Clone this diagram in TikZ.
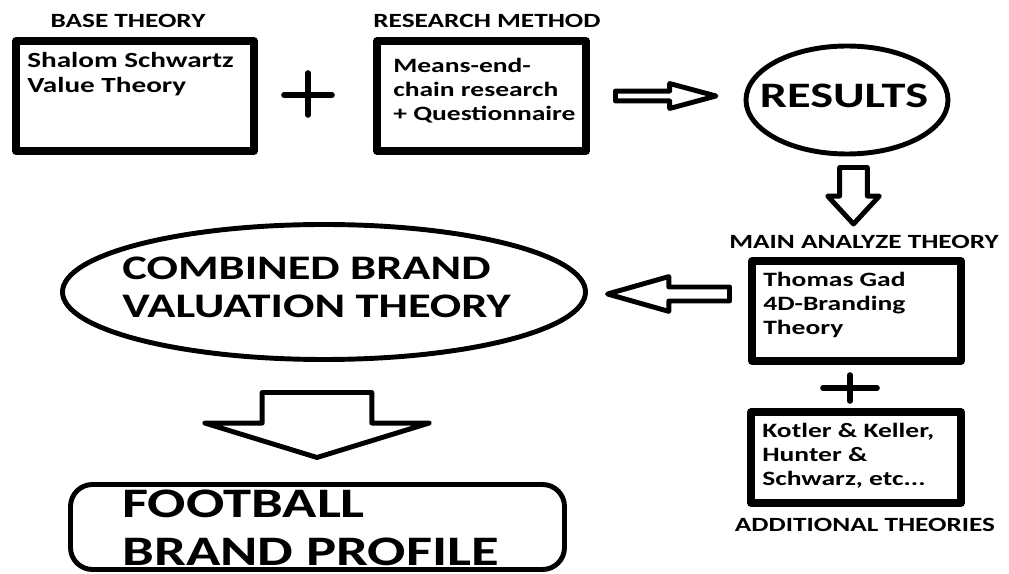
\documentclass[tikz,border=0pt]{standalone}
\usepackage{fontspec}
\setmainfont{Carlito}[FakeStretch=1.35]
\usetikzlibrary{calc,shapes.geometric}

\def\pxu{0.02cm}

% hollow block arrow: name, tail, tip, shaft half-width, head half-width, head length
\newcommand\blockarrow[6]{%
  \coordinate (#1-h) at ($(#3)!#6!(#2)$);
  \draw[arrowline]
    ($(#2)!#4!90:(#3)$) -- ($(#1-h)!#4!90:(#3)$) -- ($(#1-h)!#5!90:(#3)$) -- (#3)
    -- ($(#1-h)!#5!-90:(#3)$) -- ($(#1-h)!#4!-90:(#3)$) -- ($(#2)!#4!-90:(#3)$) -- cycle;
}

\tikzset{
  heavybox/.style={draw, line width=4.3pt, inner sep=0pt, outer sep=0pt},
  ring/.style={draw, ellipse, line width=2.8pt, inner sep=0pt, outer sep=0pt},
  roundbox/.style={draw, rectangle, rounded corners=0.44cm, line width=2.8pt, inner sep=0pt, outer sep=0pt},
  arrowline/.style={draw, line width=2.8pt, line join=round},
  plusbar/.style={line width=3.2pt, line cap=round},
  boxtext/.style={anchor=base west, inner sep=0pt, font=\bfseries\fontsize{11.6}{13.6}\selectfont},
  bigtext/.style={anchor=base west, inner sep=0pt},
  tag/.style={anchor=base, inner sep=0pt, font=\bfseries\fontsize{11.5}{13}\selectfont},
}

\begin{document}
\begin{tikzpicture}[x=0.02cm, y=-0.02cm, line join=round]
\useasboundingbox (0,0) rectangle (1009,574);
\fill[white] (0,0) rectangle (1009,574);

% captions
\node[tag] (baseL) at (128,28) {BASE THEORY};
\node[tag] (methodL) at (487,28) {RESEARCH METHOD};
\node[tag] (mainL) at (864,249) {MAIN ANALYZE THEORY};
\node[tag] (extraL) at (865,532) {ADDITIONAL THEORIES};

% framed boxes
\node[heavybox, minimum width=238*\pxu, minimum height=110*\pxu] (base) at (135,96) {};
\node[heavybox, minimum width=209*\pxu, minimum height=110*\pxu] (method) at (481.5,96) {};
\node[heavybox, minimum width=209*\pxu, minimum height=100*\pxu] (gad) at (856.5,311) {};
\node[heavybox, minimum width=210*\pxu, minimum height=91*\pxu] (extra) at (856,457.5) {};

% box contents
\node[boxtext, font=\bfseries\fontsize{12.3}{13.8}\selectfont] (baseT) at (27,68)
  {\vtop{\hbox{Shalom Schwartz}\hbox{Value Theory}}};
\node[boxtext] (methodT) at (393,73) {\vtop{\hbox{Means-end-}\hbox{chain research}\hbox{+ Questionnaire}}};
\node[boxtext] (gadT) at (763,287) {\vtop{\hbox{Thomas Gad}\hbox{4D-Branding}\hbox{Theory}}};
\node[boxtext] (extraT) at (762,438) {\vtop{\hbox{Kotler \& Keller,}\hbox{Hunter \&}\hbox{Schwarz, etc...}}};

% ellipses and the final rounded box
\node[ring, minimum width=202*\pxu, minimum height=108*\pxu] (res) at (847,100) {};
\node[anchor=base, inner sep=0pt, font=\bfseries\fontsize{20.4}{24}\selectfont] (resT) at (844,108) {RESULTS};

\node[ring, minimum width=523*\pxu, minimum height=135*\pxu] (comb) at (324,292) {};
\node[bigtext, font=\bfseries\fontsize{19.6}{21.5}\selectfont] (combT) at (122,280)
  {\vtop{\hbox{COMBINED BRAND}\hbox{VALUATION THEORY}}};

\node[roundbox, minimum width=494*\pxu, minimum height=85*\pxu] (foot) at (317.5,527) {};
\node[bigtext, font=\bfseries\fontsize{23.9}{27.2}\selectfont] (footT) at (122,518)
  {\vtop{\hbox{FOOTBALL}\hbox{BRAND PROFILE}}};

% plus signs
\coordinate (plusA) at (308,95);
\draw[plusbar] ($(plusA)+(-24,0)$) -- ($(plusA)+(24,0)$)
               ($(plusA)+(0,-22)$) -- ($(plusA)+(0,20)$);
\coordinate (plusB) at (850,388);
\draw[plusbar] ($(plusB)+(-27,0)$) -- ($(plusB)+(27,0)$)
               ($(plusB)+(0,-13)$) -- ($(plusB)+(0,13)$);

% block arrows
\coordinate (a1s) at (615.5,96);  \coordinate (a1e) at (716,96);
\blockarrow{a1}{a1s}{a1e}{2.8pt}{7.1pt}{26.4pt}
\coordinate (a2s) at (853.5,167.5); \coordinate (a2e) at (853.5,224);
\blockarrow{a2}{a2s}{a2e}{7.9pt}{14.7pt}{15.9pt}
\coordinate (a3s) at (729.5,294); \coordinate (a3e) at (607.5,294);
\blockarrow{a3}{a3s}{a3e}{4pt}{9.9pt}{34.9pt}
\coordinate (a4s) at (317,392.5); \coordinate (a4e) at (317,457.5);
\blockarrow{a4}{a4s}{a4e}{31.2pt}{63.8pt}{19.6pt}
\end{tikzpicture}
\end{document}
